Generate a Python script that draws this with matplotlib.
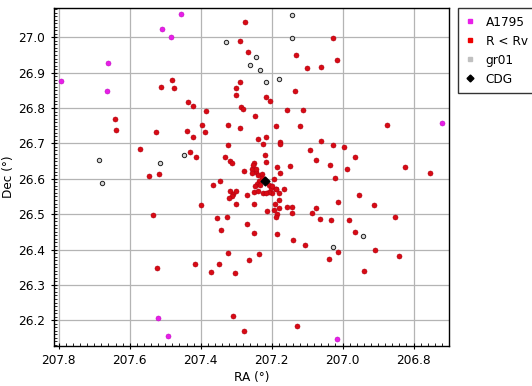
import matplotlib
matplotlib.use('Agg')
import matplotlib.pyplot as plt
from matplotlib.lines import Line2D
from matplotlib.ticker import MultipleLocator, FormatStrFormatter

# A1795 members (magenta)
a1795_ra = [207.456, 207.509, 207.484, 207.660, 207.795, 207.663, 206.719, 207.520, 207.491, 207.017]
a1795_dec = [27.065, 27.023, 27.000, 26.926, 26.876, 26.847, 26.757, 26.206, 26.155, 26.146]

# gr01 members (open grey circles)
gr01_ra = [207.144, 207.142, 207.329, 207.243, 207.260, 207.232, 207.215, 207.178,
           207.447, 207.515, 207.688, 207.679, 207.028, 206.943]
gr01_dec = [27.062, 26.997, 26.986, 26.943, 26.921, 26.907, 26.873, 26.881,
            26.666, 26.644, 26.652, 26.587, 26.406, 26.437]

# galaxies with R < Rv (red)
rv_ra = [207.275, 207.289, 207.267, 207.028, 207.130, 207.017, 207.099, 207.060,
         207.512, 207.481, 207.475, 207.288, 207.300, 207.300, 207.215, 207.206,
         207.135, 207.436, 207.422, 207.385, 207.286, 207.282, 207.247, 207.156,
         207.113, 207.642, 207.639, 207.526, 207.397, 207.440, 207.388, 207.422,
         207.323, 207.289, 207.187, 207.120, 206.876, 207.572, 207.324, 207.238,
         207.215, 207.225, 207.177, 207.176, 207.062, 207.028, 206.997, 207.091,
         207.430, 207.414, 207.332, 207.317, 207.313, 207.219, 207.216, 207.074,
         206.966, 207.147, 207.186, 207.036, 206.824, 206.754, 206.988, 207.278,
         207.250, 207.254, 207.546, 207.518, 207.346, 207.365, 207.176, 207.193,
         207.020, 207.318, 207.309, 207.301, 207.311, 207.319, 207.269, 207.164,
         207.187, 207.180, 207.198, 207.207, 206.953, 207.399, 207.300, 207.250,
         207.190, 207.178, 207.178, 207.157, 207.144, 207.144, 207.213, 207.192,
         207.186, 207.187, 207.012, 206.911, 207.535, 207.353, 207.325, 207.087,
         207.074, 207.065, 207.032, 206.981, 206.853, 207.343, 207.269, 207.251,
         207.186, 206.966, 207.139, 207.105, 207.323, 207.235, 207.263, 207.348,
         207.416, 206.910, 207.012, 207.039, 206.841, 207.371, 207.303, 207.523,
         206.940, 207.308, 207.128, 207.277,
         207.243, 207.238, 207.226, 207.254, 207.228, 207.236, 207.241, 207.234,
         207.247, 207.208, 207.203, 207.250, 207.238, 207.224, 207.215, 207.198,
         207.189, 207.245, 207.253]
rv_dec = [27.042, 26.989, 26.958, 26.997, 26.949, 26.935, 26.912, 26.915,
          26.859, 26.878, 26.856, 26.874, 26.856, 26.836, 26.830, 26.820,
          26.847, 26.816, 26.805, 26.791, 26.802, 26.798, 26.777, 26.794,
          26.794, 26.768, 26.737, 26.731, 26.751, 26.734, 26.731, 26.717,
          26.751, 26.743, 26.748, 26.748, 26.751, 26.683, 26.695, 26.712,
          26.717, 26.697, 26.703, 26.698, 26.706, 26.695, 26.689, 26.680,
          26.675, 26.661, 26.661, 26.649, 26.644, 26.666, 26.647, 26.652,
          26.661, 26.635, 26.632, 26.638, 26.632, 26.615, 26.627, 26.621,
          26.644, 26.627, 26.607, 26.613, 26.593, 26.582, 26.615, 26.599,
          26.601, 26.565, 26.556, 26.565, 26.550, 26.545, 26.553, 26.570,
          26.570, 26.559, 26.559, 26.563, 26.553, 26.525, 26.528, 26.528,
          26.528, 26.539, 26.517, 26.519, 26.519, 26.502, 26.508, 26.511,
          26.500, 26.491, 26.533, 26.525, 26.497, 26.488, 26.491, 26.502,
          26.517, 26.485, 26.483, 26.483, 26.491, 26.454, 26.471, 26.446,
          26.443, 26.449, 26.426, 26.412, 26.389, 26.386, 26.369, 26.358,
          26.358, 26.398, 26.392, 26.372, 26.381, 26.336, 26.333, 26.347,
          26.338, 26.211, 26.183, 26.169,
          26.618, 26.611, 26.614, 26.616, 26.602, 26.595, 26.586, 26.581,
          26.579, 26.583, 26.574, 26.562, 26.565, 26.560, 26.560, 26.579,
          26.570, 26.628, 26.638]

# central dominant galaxy
cdg_ra = [207.219]
cdg_dec = [26.594]

labels = ['A1795', 'R < Rv', 'gr01', 'CDG']

plt.rcParams['font.family'] = 'DejaVu Sans'
fig = plt.figure(figsize=(5.32, 3.86), dpi=100)
ax = fig.add_axes([53.5 / 532, 1 - 345.7 / 386, (449 - 53.5) / 532, (345.7 - 8.3) / 386])

ax.scatter(rv_ra, rv_dec, s=13, c='#d80a14', edgecolors='#b00010', linewidths=0.4, zorder=3)
ax.scatter(a1795_ra, a1795_dec, s=13, c='#e81ee8', edgecolors='#c010c0', linewidths=0.4, zorder=3)
ax.scatter(gr01_ra, gr01_dec, s=10, c='#d8d8d8', edgecolors='#202020', linewidths=0.7, zorder=3)
ax.scatter(cdg_ra, cdg_dec, s=20, c='black', marker='D', zorder=4)

ax.set_xlim(207.815, 206.700)
ax.set_ylim(26.128, 27.082)
ax.xaxis.set_major_locator(MultipleLocator(0.2))
ax.xaxis.set_minor_locator(MultipleLocator(0.02))
ax.yaxis.set_major_locator(MultipleLocator(0.1))
ax.yaxis.set_minor_locator(MultipleLocator(0.01))
ax.xaxis.set_major_formatter(FormatStrFormatter('%.1f'))
ax.yaxis.set_major_formatter(FormatStrFormatter('%.1f'))
ax.tick_params(which='major', direction='inout', length=5, width=0.8, labelsize=8.7, color='black')
ax.tick_params(which='minor', direction='in', length=2, width=0.6)
ax.grid(True, which='major', color='#b4b4b4', linewidth=0.9)
ax.set_axisbelow(True)
for sp in ax.spines.values():
    sp.set_linewidth(1.0)

ax.set_xlabel('RA (°)', fontsize=8.7, labelpad=3)
ax.set_ylabel('Dec (°)', fontsize=8.7, labelpad=2)

handles = [
    Line2D([], [], ls='none', marker='s', ms=3, mfc='#e81ee8', mec='#e81ee8'),
    Line2D([], [], ls='none', marker='s', ms=3, mfc='#ee0000', mec='#ee0000'),
    Line2D([], [], ls='none', marker='s', ms=3, mfc='#c0c0c0', mec='#c0c0c0'),
    Line2D([], [], ls='none', marker='D', ms=3.5, mfc='black', mec='black'),
]
leg = fig.legend(handles, labels, loc='upper left', bbox_to_anchor=(458 / 532, 1 - 8.3 / 386),
                 fontsize=8.7, frameon=True, fancybox=False, edgecolor='black',
                 borderpad=0.6, labelspacing=0.5, handlelength=0.8, handletextpad=0.9,
                 borderaxespad=0)
leg.get_frame().set_linewidth(1.0)

fig.savefig('out.png', dpi=100)
